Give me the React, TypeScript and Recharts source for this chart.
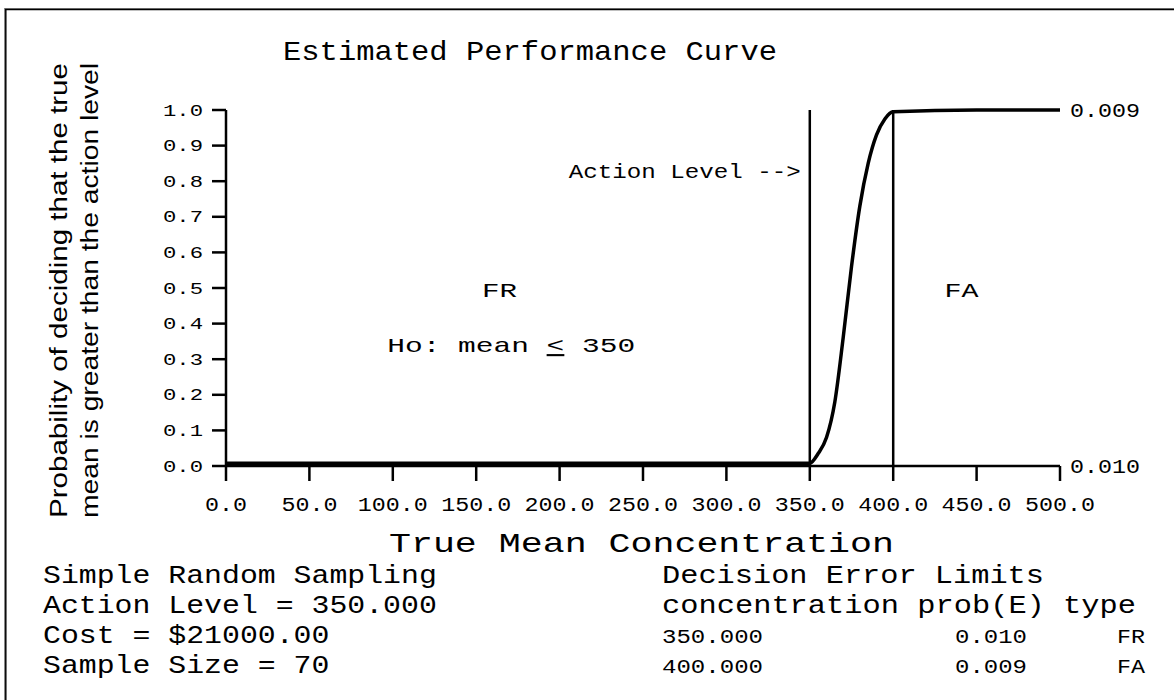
import React from 'react';
import { LineChart, Line, XAxis, YAxis, ReferenceLine, ReferenceDot } from 'recharts';

// performance curve
const concentration = [0, 50, 100, 150, 200, 250, 300, 350, 355, 360, 365, 370, 375, 380, 385, 390, 395, 400, 450, 500];
const probability = [0.008, 0.008, 0.008, 0.008, 0.008, 0.008, 0.008, 0.008, 0.035, 0.08, 0.18, 0.36, 0.56, 0.73, 0.85, 0.93, 0.975, 0.995, 1, 1];

const xTicks = [0, 50, 100, 150, 200, 250, 300, 350, 400, 450, 500];
const yTicks = [0, 0.1, 0.2, 0.3, 0.4, 0.5, 0.6, 0.7, 0.8, 0.9, 1];

const actionLevel = 350;
const limitConc = ['350.000', '400.000'];
const limitValues = [350, 400];
const limitProb = ['0.010', '0.009'];
const limitType = ['FR', 'FA'];

const sampleInfo = ['Simple Random Sampling', 'Action Level = 350.000', 'Cost = $21000.00', 'Sample Size = 70'];
const title = 'Estimated Performance Curve';
const xTitle = 'True Mean Concentration';
const yTitle = ['Probability of deciding that the true', 'mean is greater than the action level'];

const MONO = "'Liberation Mono', 'Courier New', monospace";
const SANS = "'Liberation Sans', Arial, sans-serif";

const data = concentration.map((c, i) => ({ c, p: probability[i] }));

function M({ x, y, len, size, anchor = 'start', children }: any) {
  return (
    <text x={x} y={y} fontFamily={MONO} fontSize={size} textLength={len} lengthAdjust="spacingAndGlyphs" textAnchor={anchor} fill="#000">
      {children}
    </text>
  );
}

const XTick = ({ x, y, payload }: any) => {
  const s = payload.value.toFixed(1);
  return <M x={x} y={y + 28} len={s.length * 14} size={21} anchor="middle">{s}</M>;
};

const YTick = ({ x, y, payload }: any) => (
  <M x={x - 7} y={y + 5.5} len={40} size={17} anchor="end">{payload.value.toFixed(1)}</M>
);

export default function App() {
  return (
    <div style={{ position: 'absolute', left: 0, top: 0, width: 1174, height: 700, background: '#fff' }}>
      <LineChart width={1174} height={700} data={data} margin={{ top: 110, right: 114, bottom: 194, left: 166 }}>
        <XAxis
          dataKey="c"
          type="number"
          domain={[0, 500]}
          ticks={xTicks}
          interval={0}
          height={40}
          tickSize={15}
          axisLine={{ stroke: '#000', strokeWidth: 2.5 }}
          tickLine={{ stroke: '#000', strokeWidth: 2.5 }}
          tick={<XTick />}
        />
        <YAxis
          yAxisId="left"
          domain={[0, 1]}
          ticks={yTicks}
          interval={0}
          width={60}
          tickSize={14}
          axisLine={{ stroke: '#000', strokeWidth: 2.5 }}
          tickLine={{ stroke: '#000', strokeWidth: 2.5 }}
          tick={<YTick />}
        />
        {limitValues.map((v) => (
          <ReferenceLine key={v} x={v} yAxisId="left" stroke="#000" strokeWidth={2.5} />
        ))}
        <Line
          yAxisId="left"
          type="monotone"
          dataKey="p"
          stroke="#000"
          strokeWidth={3.5}
          dot={false}
          isAnimationActive={false}
        />
        {[0, 1].map((v, i) => (
          <ReferenceDot
            key={v}
            x={500}
            y={v}
            yAxisId="left"
            r={0}
            shape={(p: any) => <M x={p.cx + 10} y={p.cy + 7} len={70} size={21}>{limitProb[i]}</M>}
          />
        ))}
        <ReferenceDot
          x={actionLevel}
          y={0.81}
          yAxisId="left"
          r={0}
          shape={(p: any) => <M x={p.cx - 9} y={p.cy} len={232} size={20} anchor="end">Action Level --&gt;</M>}
        />
        <ReferenceDot
          x={164}
          y={0.475}
          yAxisId="left"
          r={0}
          shape={(p: any) => <M x={p.cx} y={p.cy} len={35} size={20} anchor="middle">{limitType[0]}</M>}
        />
        <ReferenceDot
          x={441}
          y={0.475}
          yAxisId="left"
          r={0}
          shape={(p: any) => <M x={p.cx} y={p.cy} len={34} size={20} anchor="middle">{limitType[1]}</M>}
        />
        <ReferenceDot
          x={171}
          y={0.32}
          yAxisId="left"
          r={0}
          shape={(p: any) => (
            <M x={p.cx} y={p.cy} len={248} size={21} anchor="middle">
              Ho: mean <tspan style={{ textDecoration: 'underline' }}>&lt;</tspan> {actionLevel}
            </M>
          )}
        />
      </LineChart>
      <svg width={1174} height={700} style={{ position: 'absolute', left: 0, top: 0, pointerEvents: 'none' }}>
        <line x1={4} y1={8.5} x2={1174} y2={8.5} stroke="#888" strokeWidth={1} />
        <line x1={5} y1={9.5} x2={1174} y2={9.5} stroke="#000" strokeWidth={1.5} />
        <line x1={4.5} y1={8} x2={4.5} y2={700} stroke="#888" strokeWidth={1} />
        <line x1={5.8} y1={9} x2={5.8} y2={700} stroke="#000" strokeWidth={1.5} />
        <M x={283} y={60} len={494} size={28}>{title}</M>
        <M x={389} y={552} len={505} size={28}>{xTitle}</M>
        {yTitle.map((t, i) => (
          <text
            key={t}
            transform={`translate(${67 + i * 31}, 518) rotate(-90)`}
            fontFamily={SANS}
            fontSize={23}
            textLength={455}
            lengthAdjust="spacingAndGlyphs"
            fill="#000"
          >
            {t}
          </text>
        ))}
        {sampleInfo.map((t, i) => (
          <M key={t} x={43} y={583 + i * 30} len={t.length * 17.9} size={26}>{t}</M>
        ))}
        <M x={662} y={583} len={382} size={26}>Decision Error Limits</M>
        <M x={662} y={613} len={474} size={26}>concentration prob(E) type</M>
        {limitConc.map((c, i) => (
          <g key={c}>
            <M x={662} y={643 + i * 30} len={101} size={20}>{c}</M>
            <M x={955} y={643 + i * 30} len={72} size={20}>{limitProb[i]}</M>
            <M x={1117} y={643 + i * 30} len={28} size={20}>{limitType[i]}</M>
          </g>
        ))}
      </svg>
    </div>
  );
}
